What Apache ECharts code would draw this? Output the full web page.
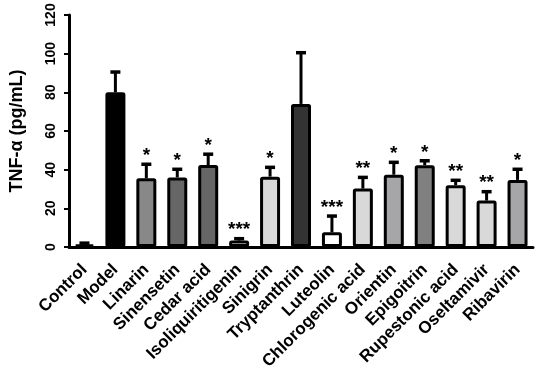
<!DOCTYPE html>
<html>
<head>
<meta charset="utf-8">
<script src="https://cdn.jsdelivr.net/npm/echarts@6/dist/echarts.min.js"></script>
<style>
  html, body { margin: 0; padding: 0; background: #fff; }
  #chart { width: 536px; height: 376px; }
</style>
</head>
<body>
<div id="chart"></div>
<script>
// groups on the x axis
const categories = ["Control", "Model", "Linarin", "Sinensetin", "Cedar acid", "Isoliquiritigenin",
    "Sinigrin", "Tryptanthrin", "Luteolin", "Chlorogenic acid", "Orientin", "Epigoitrin",
    "Rupestonic acid", "Oseltamivir", "Ribavirin"];
// mean TNF-α (pg/mL)
const means = [1.2, 80, 35.5, 36, 42.4, 3.3, 36.4, 74, 7.6, 30.2, 37.4, 42.3, 32, 24, 34.7];
// mean + SD (top of the error bar)
const errTops = [2, 90.5, 42.8, 40.2, 48, 4.3, 41.2, 100.5, 16, 36, 43.8, 44.6, 34.5, 28.6, 40.2];
// significance marks
const stars = ["", "", "*", "*", "*", "***", "*", "", "***", "**", "*", "*", "**", "**", "*"];
// bar fills
const fills = ["#ffffff", "#000000", "#888888", "#666666", "#666666", "#ffffff", "#d9d9d9", "#333333",
    "#ffffff", "#d9d9d9", "#a6a6a8", "#808080", "#d9d9d9", "#d9d9d9", "#a6a6a8"];

const FONT = "Liberation Sans, Arial, sans-serif";

const chart = echarts.init(document.getElementById("chart"));

// error bar (upward only) + stars above the cap
function renderErr(params, api) {
    const idx = api.value(0);
    const base = api.coord([idx, api.value(1)]);
    const top = api.coord([idx, api.value(2)]);
    const half = 5;
    const children = [
        {
            type: "line",
            shape: { x1: base[0], y1: base[1], x2: top[0], y2: top[1] },
            style: { stroke: "#000", lineWidth: 3 }
        },
        {
            type: "line",
            shape: { x1: top[0] - half, y1: top[1], x2: top[0] + half, y2: top[1] },
            style: { stroke: "#000", lineWidth: 3.5 }
        }
    ];
    const mark = stars[idx];
    if (mark) {
        children.push({
            type: "text",
            style: {
                text: mark,
                x: top[0],
                y: top[1] + 1,
                align: "center",
                verticalAlign: "bottom",
                font: "bold 19px " + FONT,
                fill: "#000"
            }
        });
    }
    return { type: "group", children: children };
}

chart.setOption({
    animation: false,
    grid: { left: 60, right: 3, top: 15, bottom: 129 },
    xAxis: {
        type: "category",
        data: categories,
        axisLine: { lineStyle: { color: "#000", width: 3 } },
        axisTick: { alignWithLabel: true, length: 6, lineStyle: { color: "#000", width: 2 } },
        axisLabel: {
            rotate: 45,
            interval: 0,
            margin: 20,
            color: "#000",
            fontFamily: FONT,
            fontWeight: "bold",
            fontSize: 17
        }
    },
    yAxis: {
        type: "value",
        min: 0,
        max: 120,
        interval: 20,
        name: "TNF-α (pg/mL)",
        nameLocation: "middle",
        nameGap: 43,
        nameTextStyle: { color: "#000", fontFamily: FONT, fontWeight: "bold", fontSize: 18 },
        axisLine: { show: true, lineStyle: { color: "#000", width: 3 } },
        axisTick: { show: true, length: 5, lineStyle: { color: "#000", width: 2 } },
        splitLine: { show: false },
        axisLabel: {
            rotate: 90,
            margin: 11,
            color: "#000",
            fontFamily: FONT,
            fontWeight: "bold",
            fontSize: 14
        }
    },
    series: [
        {
            type: "bar",
            barWidth: 20,
            data: means.map((v, i) => ({
                value: v,
                itemStyle: { color: fills[i] }
            })),
            itemStyle: { borderColor: "#000", borderWidth: 3, borderRadius: 1 },
            z: 2
        },
        {
            type: "custom",
            renderItem: renderErr,
            data: means.map((v, i) => [i, v, errTops[i]]),
            z: 3
        }
    ]
});
</script>
</body>
</html>
